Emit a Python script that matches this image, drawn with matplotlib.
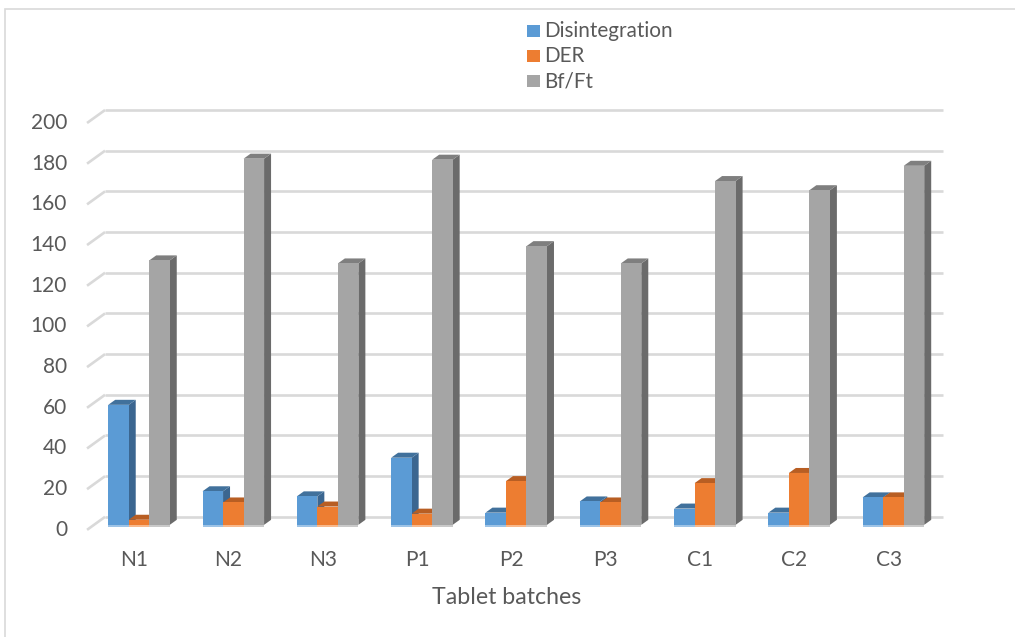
import matplotlib.pyplot as plt
from matplotlib.patches import Rectangle, Polygon

plt.rcParams['font.family'] = ['Lato', 'DejaVu Sans']

batches = ["N1", "N2", "N3", "P1", "P2", "P3", "C1", "C2", "C3"]
disintegration = [59, 16.5, 14, 33, 6, 11.5, 8, 6, 13.5]
der = [2.5, 11, 9, 5.5, 21.5, 11, 20.5, 25.5, 13.5]
bf_ft = [130, 180, 128.5, 179.5, 137, 128.5, 169, 164.5, 176.5]
series_names = ["Disintegration", "DER", "Bf/Ft"]
yticks = list(range(0, 201, 20))

# face colours: front, top, side
faces = [
    ("#5B9BD5", "#41719C", "#3B6690"),
    ("#ED7D31", "#B85E23", "#AE5A22"),
    ("#A5A5A5", "#7F7F7F", "#6B6B6B"),
]
base_light = ["#9DC3E6", "#F8B98C", "#C9C9C9"]
text_col = "#595959"
grid_col = "#D9D9D9"

fig = plt.figure(figsize=(10.15, 6.37), dpi=100)
ax = fig.add_axes([0.0812, 0.1601, 0.8548, 0.6866])
ax.set_xlim(-0.6, 8.6)
ax.set_ylim(-5, 210)
ax.axis("off")

# pseudo-3d geometry in data units
bw = 0.2175      # bar width
dx = 0.074       # depth offset, horizontal
dy = 2.46        # depth offset, vertical
wall_x0, wall_x1 = -0.36, 8.526
front_x0 = -0.551
back_off = 3.93
front_off = -2.46

# back wall gridlines + side wall stubs
for t in yticks:
    ax.plot([wall_x0, wall_x1], [t + back_off, t + back_off],
            color=grid_col, lw=1.9, zorder=1, solid_capstyle="butt")
    ax.plot([front_x0, wall_x0], [t + front_off, t + back_off],
            color=grid_col, lw=1.9, zorder=1, solid_capstyle="butt")
    ax.text(-0.763, t + front_off, str(t), ha="right", va="center",
            fontsize=15, color=text_col)

series = [disintegration, der, bf_ft]
z = 2
for i in range(len(batches)):
    left = i - 1.5 * bw
    for s, vals in enumerate(series):
        v = vals[i]
        x = left + s * bw
        front, top, side = faces[s]
        ax.add_patch(Polygon([(x + bw, 0), (x + bw + dx, dy),
                              (x + bw + dx, v + dy), (x + bw, v)],
                             closed=True, facecolor=side, edgecolor="none", zorder=z))
        ax.add_patch(Polygon([(x, v), (x + bw, v), (x + bw + dx, v + dy),
                              (x + dx, v + dy)],
                             closed=True, facecolor=top, edgecolor="none", zorder=z))
        ax.add_patch(Rectangle((x, 0), bw, v, facecolor=front,
                               edgecolor="none", zorder=z + 0.5))
        ax.add_patch(Rectangle((x, -1.0), bw, 1.0, facecolor=base_light[s],
                               edgecolor="none", zorder=z + 0.5))
        z += 1
    ax.text(i - 0.05, -17.2, batches[i], ha="center", va="center",
            fontsize=15, color=text_col)

ax.text(3.9, -35.8, "Tablet batches", ha="center", va="center",
        fontsize=16.7, color=text_col)

# legend
for k, name in enumerate(series_names):
    yc = 1 - (31 + 25 * k) / 637
    fig.add_artist(Rectangle((527 / 1015, yc - 6 / 637), 13 / 1015, 12 / 637,
                             transform=fig.transFigure, facecolor=faces[k][0],
                             edgecolor="none"))
    fig.text(544 / 1015, yc, name, ha="left", va="center",
             fontsize=14.9, color=text_col)

# chart area border
fig.add_artist(Rectangle((5 / 1015, -0.01), 1.05, 1 - 9 / 637 + 0.01,
                         transform=fig.transFigure, facecolor="none",
                         edgecolor=grid_col, lw=1.2))

fig.savefig("out.png", dpi=100)
